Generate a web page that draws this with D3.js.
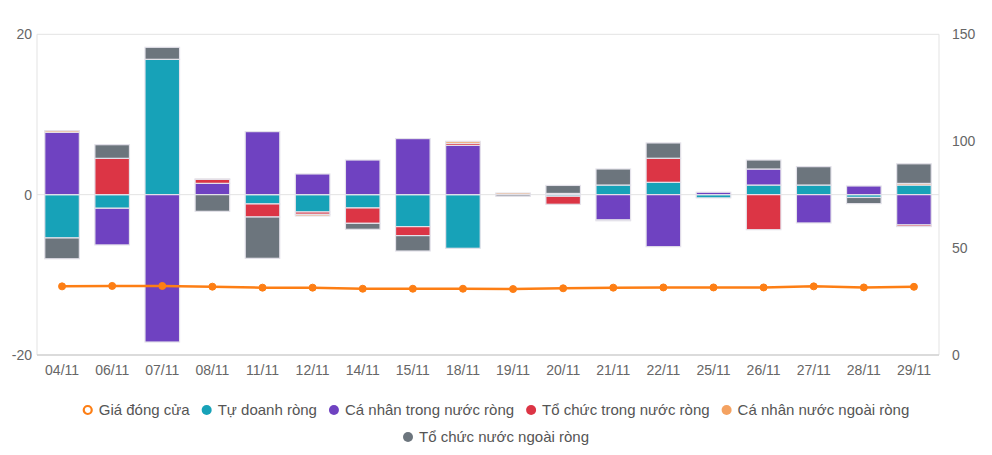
<!DOCTYPE html>
<html>
<head>
<meta charset="utf-8">
<script src="https://cdn.jsdelivr.net/npm/d3@7"></script>
<style>
  html, body { margin: 0; padding: 0; background: #fff; }
  svg { display: block; font-family: "Liberation Sans", Arial, sans-serif; }
</style>
</head>
<body>
<svg id="chart" width="992" height="455"></svg>
<script>
const dates = ["04/11","06/11","07/11","08/11","11/11","12/11","14/11","15/11","18/11","19/11","20/11","21/11","22/11","25/11","26/11","27/11","28/11","29/11"];
const tuDoanh   = [-5.4, -1.7, 16.88, 0, -1.16, -2.16, -1.66, -3.99, -6.69, 0, -0.2, 1.2, 1.54, -0.4, 1.2, 1.2, -0.35, 1.2];
const caNhanTN  = [7.78, -4.57, -18.38, 1.41, 7.86, 2.58, 4.32, 6.99, 6.15, 0, 0, -3.16, -6.49, 0.3, 2.0, -3.53, 1.08, -3.78];
const toChucTN  = [0, 4.53, 0, 0.5, -1.63, -0.3, -1.92, -1.12, 0.25, 0, -1.0, 0, 3.0, 0, -4.37, 0, 0, -0.2];
const caNhanNN  = [0.2, 0, 0, 0.05, 0, -0.2, 0, 0, 0.25, 0.2, 0.15, -0.1, 0, 0, 0, 0, 0, 0.2];
const toChucNN  = [-2.6, 1.7, 1.5, -2.08, -5.15, 0, -0.74, -1.92, 0, -0.2, 1.0, 2.0, 1.91, 0, 1.12, 2.29, -0.77, 2.45];
const giaDongCua = [32.1, 32.3, 32.3, 31.96, 31.5, 31.5, 31.0, 31.0, 31.0, 30.85, 31.2, 31.5, 31.6, 31.6, 31.6, 32.1, 31.6, 31.9];
const leftTicks = [-20, 0, 20];
const rightTicks = [0, 50, 100, 150];

const seriesNames = ["Tự doanh ròng", "Cá nhân trong nước ròng", "Tổ chức trong nước ròng", "Cá nhân nước ngoài ròng", "Tổ chức nước ngoài ròng"];
const seriesValues = [tuDoanh, caNhanTN, toChucTN, caNhanNN, toChucNN];
const seriesColors = ["#17a2b8", "#6f42c1", "#dc3545", "#f4a261", "#6c757d"];
const lineName = "Giá đóng cửa";
const lineColor = "#fd7e14";

const svg = d3.select("#chart");
const L = 37, R = 939, T = 34.3, B = 355;

const x = d3.scaleBand().domain(dates).range([L, R]).paddingInner(0.31).paddingOuter(0.155);
const y = d3.scaleLinear().domain([-20, 20]).range([B, T]);
const y2 = d3.scaleLinear().domain([0, 150]).range([B, T]);

// grid / frame
const grid = svg.append("g");
[20, 0].forEach(v => grid.append("line").attr("x1", L).attr("x2", R).attr("y1", y(v)).attr("y2", y(v)).attr("stroke", "#e3e3e3").attr("stroke-width", 1));
grid.append("line").attr("x1", L).attr("x2", L).attr("y1", T).attr("y2", B).attr("stroke", "#e3e3e3");
grid.append("line").attr("x1", R).attr("x2", R).attr("y1", T).attr("y2", B).attr("stroke", "#e3e3e3");
grid.append("line").attr("x1", L).attr("x2", R).attr("y1", B).attr("y2", B).attr("stroke", "#cfcfcf").attr("stroke-width", 1.3);

// stacked data
const table = dates.map((d, i) => {
  const o = { date: d };
  seriesNames.forEach((n, k) => o[n] = seriesValues[k][i]);
  return o;
});
const stacked = d3.stack().keys(seriesNames).offset(d3.stackOffsetDiverging)(table);

const bars = svg.append("g");
stacked.forEach((s, k) => {
  bars.selectAll(null).data(s.filter(d => d[0] !== d[1])).enter().append("rect")
    .attr("x", d => x(d.data.date))
    .attr("width", x.bandwidth())
    .attr("y", d => y(Math.max(d[0], d[1])))
    .attr("height", d => Math.abs(y(d[0]) - y(d[1])))
    .attr("fill", seriesColors[k])
    .attr("stroke", "#e4e2ea")
    .attr("stroke-width", 1.2);
});

// line
const cx = d => x(d) + x.bandwidth() / 2;
const line = d3.line().x((d, i) => cx(dates[i])).y(d => y2(d));
svg.append("path").datum(giaDongCua).attr("d", line).attr("fill", "none").attr("stroke", lineColor).attr("stroke-width", 2.5);
svg.append("g").selectAll("circle").data(giaDongCua).enter().append("circle")
  .attr("cx", (d, i) => cx(dates[i])).attr("cy", d => y2(d)).attr("r", 3.5)
  .attr("fill", lineColor).attr("stroke", lineColor).attr("stroke-width", 1);

// axes
const fmt = d => String(d);
const leftAxis = d3.axisLeft(y).tickValues(leftTicks).tickFormat(fmt).tickSize(0).tickPadding(5);
const gl = svg.append("g").attr("transform", `translate(${L},0)`).call(leftAxis);
gl.select(".domain").remove();
gl.selectAll("text").attr("fill", "#666").style("font-size", "14px").attr("font-family", "Liberation Sans, Arial, sans-serif");

const rightAxis = d3.axisRight(y2).tickValues(rightTicks).tickFormat(fmt).tickSize(0).tickPadding(13);
const gr = svg.append("g").attr("transform", `translate(${R},0)`).call(rightAxis);
gr.select(".domain").remove();
gr.selectAll("text").attr("fill", "#666").style("font-size", "14px").attr("font-family", "Liberation Sans, Arial, sans-serif");

const bottomAxis = d3.axisBottom(x).tickSize(0).tickPadding(10);
const gb = svg.append("g").attr("transform", `translate(0,${B})`).call(bottomAxis);
gb.select(".domain").remove();
gb.selectAll("text").attr("fill", "#666").style("font-size", "14px").attr("font-family", "Liberation Sans, Arial, sans-serif");

// legend
const items = [{ name: lineName, color: lineColor, hollow: true }]
  .concat(seriesNames.map((n, k) => ({ name: n, color: seriesColors[k], hollow: false })));
const rows = [items.slice(0, 5), items.slice(5)];
const rowY = [410, 437];
const legend = svg.append("g");
rows.forEach((row, r) => {
  const g = legend.append("g");
  let xpos = 0;
  row.forEach(it => {
    const ig = g.append("g").attr("transform", `translate(${xpos},0)`);
    ig.append("circle").attr("cx", 5).attr("cy", 0).attr("r", it.hollow ? 4 : 5)
      .attr("fill", it.hollow ? "#fff" : it.color)
      .attr("stroke", it.hollow ? it.color : "none").attr("stroke-width", it.hollow ? 2.2 : 0);
    const t = ig.append("text").attr("x", 16).attr("y", 0).attr("dy", "0.35em")
      .attr("fill", "#555").style("font-size", "15px").text(it.name);
    const w = t.node().getComputedTextLength();
    xpos += 16 + w + 12;
  });
  const total = xpos - 12;
  g.attr("transform", `translate(${496 - total / 2},${rowY[r]})`);
});
</script>
</body>
</html>
